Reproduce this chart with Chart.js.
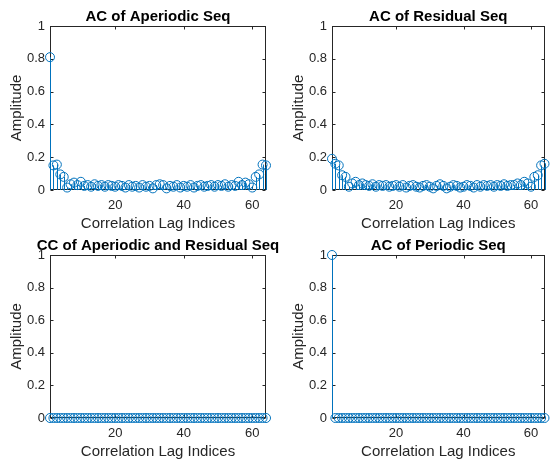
<!DOCTYPE html>
<html>
<head>
<meta charset="utf-8">
<script src="https://cdn.jsdelivr.net/npm/chart.js@4.4.1/dist/chart.umd.min.js"></script>
<style>
  html, body { margin: 0; padding: 0; background: #ffffff; }
  #wrap { position: relative; width: 550px; height: 460px; overflow: hidden; }
  #wrap canvas { position: absolute; left: 0; top: 0; }
</style>
</head>
<body>
<div id="wrap">
  <canvas id="acAper" width="550" height="460"></canvas>
  <canvas id="acResid" width="550" height="460"></canvas>
  <canvas id="ccAperResid" width="550" height="460"></canvas>
  <canvas id="acPer" width="550" height="460"></canvas>
</div>
<script>
// Lag indices shared by all four panels
const lagIndices = [
  1, 2, 3, 4, 5, 6, 7, 8, 9, 10, 11, 12, 13, 14, 15, 16,
  17, 18, 19, 20, 21, 22, 23, 24, 25, 26, 27, 28, 29, 30, 31, 32,
  33, 34, 35, 36, 37, 38, 39, 40, 41, 42, 43, 44, 45, 46, 47, 48,
  49, 50, 51, 52, 53, 54, 55, 56, 57, 58, 59, 60, 61, 62, 63, 64
];

const xTickValues = [20, 40, 60];
const xTickLabels = ['20', '40', '60'];
const yTickValues = [0, 0.2, 0.4, 0.6, 0.8, 1];
const yTickLabels = ['0', '0.2', '0.4', '0.6', '0.8', '1'];

// Autocorrelation of the aperiodic sequence
const acAperiodic = [
  0.81, 0.15, 0.155, 0.095, 0.08, 0.015, 0.035, 0.045, 0.03, 0.05, 0.025, 0.03, 0.02, 0.035, 0.025, 0.03,
  0.02, 0.03, 0.025, 0.02, 0.03, 0.025, 0.015, 0.03, 0.02, 0.025, 0.015, 0.03, 0.02, 0.025, 0.01, 0.03,
  0.035, 0.03, 0.01, 0.025, 0.02, 0.03, 0.015, 0.025, 0.02, 0.03, 0.015, 0.025, 0.03, 0.02, 0.025, 0.03,
  0.02, 0.03, 0.025, 0.035, 0.02, 0.03, 0.025, 0.05, 0.03, 0.045, 0.035, 0.015, 0.08, 0.095, 0.155, 0.15
];

// Autocorrelation of the residual sequence
const acResidual = [
  0.19, 0.16, 0.15, 0.09, 0.08, 0.02, 0.04, 0.05, 0.03, 0.04, 0.03, 0.025, 0.035, 0.02, 0.03, 0.025,
  0.03, 0.02, 0.025, 0.03, 0.02, 0.03, 0.015, 0.025, 0.03, 0.02, 0.015, 0.025, 0.03, 0.02, 0.01, 0.025,
  0.035, 0.025, 0.01, 0.02, 0.03, 0.025, 0.015, 0.02, 0.03, 0.025, 0.015, 0.03, 0.02, 0.03, 0.025, 0.03,
  0.02, 0.03, 0.025, 0.035, 0.025, 0.03, 0.03, 0.04, 0.03, 0.05, 0.04, 0.02, 0.08, 0.09, 0.15, 0.16
];

// Cross-correlation of the aperiodic and residual sequences
const ccAperiodicResidual = [
  0, 0, 0, 0, 0, 0, 0, 0, 0, 0, 0, 0, 0, 0, 0, 0,
  0, 0, 0, 0, 0, 0, 0, 0, 0, 0, 0, 0, 0, 0, 0, 0,
  0, 0, 0, 0, 0, 0, 0, 0, 0, 0, 0, 0, 0, 0, 0, 0,
  0, 0, 0, 0, 0, 0, 0, 0, 0, 0, 0, 0, 0, 0, 0, 0
];

// Autocorrelation of the periodic sequence
const acPeriodic = [
  1, 0, 0, 0, 0, 0, 0, 0, 0, 0, 0, 0, 0, 0, 0, 0,
  0, 0, 0, 0, 0, 0, 0, 0, 0, 0, 0, 0, 0, 0, 0, 0,
  0, 0, 0, 0, 0, 0, 0, 0, 0, 0, 0, 0, 0, 0, 0, 0,
  0, 0, 0, 0, 0, 0, 0, 0, 0, 0, 0, 0, 0, 0, 0, 0
];

const STEM_COLOR = '#0072BD';
const AXIS_COLOR = '#262626';
const FONT = '"Liberation Sans", Arial, Helvetica, sans-serif';
const TICK_LEN = 3;
const Y_AXIS_W = 50;
const X_AXIS_H = 42;

// Vertical stems from the zero baseline up to each marker
const stemPlugin = {
  id: 'stems',
  beforeDatasetsDraw(chart) {
    const ctx = chart.ctx;
    const base = chart.scales.y.getPixelForValue(0);
    chart.data.datasets.forEach((ds, di) => {
      const meta = chart.getDatasetMeta(di);
      ctx.save();
      ctx.strokeStyle = ds.borderColor;
      ctx.lineWidth = 1;
      ctx.beginPath();
      meta.data.forEach(pt => {
        const px = Math.round(pt.x) + 0.5;
        ctx.moveTo(px, base);
        ctx.lineTo(px, pt.y);
      });
      ctx.stroke();
      ctx.restore();
    });
  }
};

// Boxed axes with inward tick marks on all four sides
const boxPlugin = {
  id: 'axesBox',
  beforeDatasetsDraw(chart) {
    const { ctx, chartArea: a, scales: { x, y } } = chart;
    const L = Math.round(a.left) + 0.5;
    const R = Math.round(a.right) - 0.5;
    const T = Math.round(a.top) + 0.5;
    const B = Math.round(a.bottom) - 0.5;
    ctx.save();
    ctx.strokeStyle = AXIS_COLOR;
    ctx.lineWidth = 1;
    ctx.strokeRect(L, T, R - L, B - T);
    ctx.beginPath();
    x.ticks.forEach(t => {
      const px = Math.round(x.getPixelForValue(t.value)) + 0.5;
      ctx.moveTo(px, B); ctx.lineTo(px, B - TICK_LEN);
      ctx.moveTo(px, T); ctx.lineTo(px, T + TICK_LEN);
    });
    y.ticks.forEach(t => {
      const py = Math.round(y.getPixelForValue(t.value)) + 0.5;
      ctx.moveTo(L, py); ctx.lineTo(L + TICK_LEN, py);
      ctx.moveTo(R, py); ctx.lineTo(R - TICK_LEN, py);
    });
    ctx.stroke();
    ctx.restore();
  }
};

// Bold panel title centred over the plot area (may run wider than the axes)
const panelTitlePlugin = {
  id: 'panelTitle',
  afterDraw(chart, args, opts) {
    const { ctx, chartArea: a } = chart;
    ctx.save();
    ctx.font = 'bold 15px ' + FONT;
    ctx.fillStyle = '#000000';
    ctx.textAlign = 'center';
    ctx.textBaseline = 'middle';
    ctx.fillText(opts.text, (a.left + a.right) / 2, a.top - 9.5);
    ctx.restore();
  }
};

const panels = [
  { id: 'acAper', title: 'AC of Aperiodic Seq', values: acAperiodic, box: { left: 50, top: 26, right: 266, bottom: 190 } },
  { id: 'acResid', title: 'AC of Residual Seq', values: acResidual, box: { left: 332, top: 26, right: 548, bottom: 190 } },
  { id: 'ccAperResid', title: 'CC of Aperiodic and Residual Seq', values: ccAperiodicResidual, box: { left: 50, top: 255, right: 266, bottom: 418 } },
  { id: 'acPer', title: 'AC of Periodic Seq', values: acPeriodic, box: { left: 332, top: 255, right: 548, bottom: 418 } }
];

panels.forEach(p => {
  const b = p.box;
  new Chart(document.getElementById(p.id), {
    type: 'scatter',
    data: {
      datasets: [{
        data: lagIndices.map((lag, i) => ({ x: lag, y: p.values[i] })),
        showLine: false,
        borderColor: STEM_COLOR,
        backgroundColor: 'rgba(0,0,0,0)',
        pointStyle: 'circle',
        pointRadius: 4.5,
        pointBorderWidth: 1,
        pointHoverRadius: 4.5,
        clip: false
      }]
    },
    options: {
      responsive: false,
      animation: false,
      events: [],
      layout: {
        padding: {
          left: b.left - Y_AXIS_W,
          top: b.top,
          right: 550 - b.right,
          bottom: 460 - b.bottom - X_AXIS_H
        }
      },
      plugins: {
        legend: { display: false },
        tooltip: { enabled: false },
        title: { display: false },
        panelTitle: { text: p.title }
      },
      scales: {
        x: {
          type: 'linear',
          min: 1,
          max: 64,
          afterBuildTicks: s => { s.ticks = xTickValues.map(v => ({ value: v })); },
          afterFit: s => { s.height = X_AXIS_H; },
          grid: { display: false, drawTicks: false },
          border: { display: false },
          ticks: {
            autoSkip: false,
            maxRotation: 0,
            padding: 8,
            color: AXIS_COLOR,
            font: { family: FONT, size: 13 },
            callback: v => xTickLabels[xTickValues.indexOf(v)]
          },
          title: {
            display: true,
            text: 'Correlation Lag Indices',
            color: AXIS_COLOR,
            font: { family: FONT, size: 15, lineHeight: '16px' },
            padding: { top: 0, bottom: 0 }
          }
        },
        y: {
          type: 'linear',
          min: 0,
          max: 1,
          afterBuildTicks: s => { s.ticks = yTickValues.map(v => ({ value: v })); },
          afterFit: s => { s.width = Y_AXIS_W; },
          grid: { display: false, drawTicks: false },
          border: { display: false },
          ticks: {
            padding: 5,
            color: AXIS_COLOR,
            font: { family: FONT, size: 13 },
            callback: v => yTickLabels[yTickValues.indexOf(v)]
          },
          title: {
            display: true,
            text: 'Amplitude',
            color: AXIS_COLOR,
            font: { family: FONT, size: 15, lineHeight: '16px' },
            padding: { top: 9, bottom: 0 }
          }
        }
      }
    },
    plugins: [boxPlugin, stemPlugin, panelTitlePlugin]
  });
});
</script>
</body>
</html>
